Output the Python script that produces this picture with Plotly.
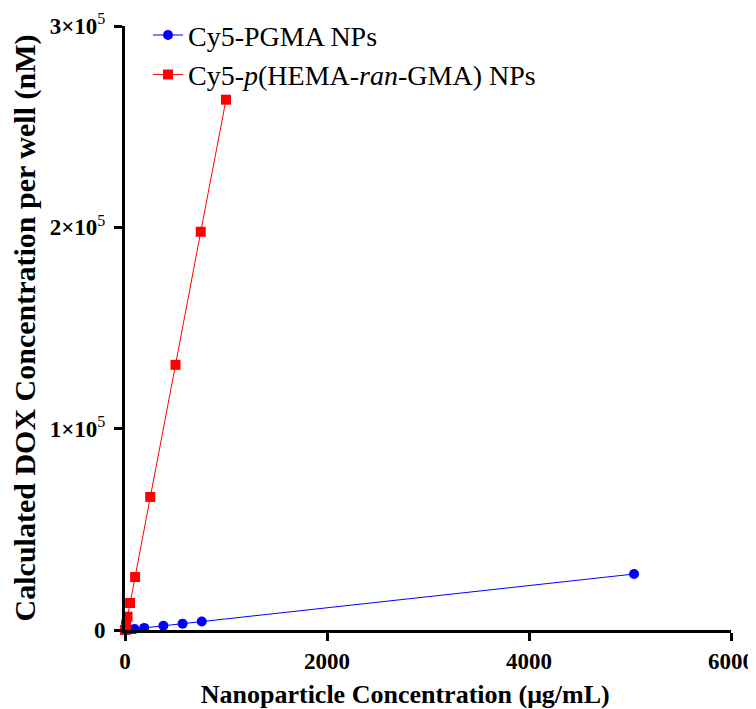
import plotly.graph_objects as go

pgma_x = [0, 10, 25, 50, 95, 190, 380, 570, 760, 5040]
pgma_y = [0, 55, 140, 275, 520, 1050, 2100, 3150, 4200, 27800]

hema_x = [0, 10, 25, 50, 100, 250, 500, 750, 1000]
hema_y = [0, 2600, 6600, 13400, 26300, 66100, 131700, 197800, 263400]

x_ticks = [0, 2000, 4000, 6000]
x_ticktext = ["<b>0</b>", "<b>2000</b>", "<b>4000</b>", "<b>6000</b>"]
y_ticks = [0, 100000, 200000, 300000]
y_ticktext = ["<b>0</b>", "<b>1×10</b><sup>5</sup>", "<b>2×10</b><sup>5</sup>", "<b>3×10</b><sup>5</sup>"]

font = "Liberation Serif"

fig = go.Figure()
fig.add_trace(go.Scatter(x=pgma_x, y=pgma_y, mode="lines+markers", name="Cy5-PGMA NPs",
                         line=dict(color="#0000ff", width=1),
                         marker=dict(symbol="circle", size=10, color="#0000ff"),
                         cliponaxis=False))
fig.add_trace(go.Scatter(x=hema_x, y=hema_y, mode="lines+markers",
                         name="Cy5-<i>p</i>(HEMA-<i>ran</i>-GMA) NPs",
                         line=dict(color="#ff0000", width=1),
                         marker=dict(symbol="square", size=10, color="#ff0000"),
                         cliponaxis=False))

# page body adds an 8px offset; figure sized to fit the 756x709 window
fig.update_layout(
    width=748, height=701,
    margin=dict(l=117, r=25, t=18, b=79, autoexpand=False),
    plot_bgcolor="white", paper_bgcolor="white",
    font=dict(family=font, color="black"),
    showlegend=True,
    legend=dict(x=0.038, y=1.026, xanchor="left", yanchor="top",
                font=dict(size=28, family=font), itemwidth=30,
                bgcolor="rgba(0,0,0,0)"),
    xaxis=dict(range=[0, 6000], tickvals=x_ticks, ticktext=x_ticktext,
               showline=True, linecolor="black", linewidth=3,
               ticks="outside", ticklen=8, tickwidth=3, tickcolor="black",
               showgrid=False, zeroline=False, automargin=False,
               tickfont=dict(size=23, family=font),
               title=dict(text="<b>Nanoparticle Concentration (μg/mL)</b>" + "&nbsp;" * 7,
                          font=dict(size=26, family=font), standoff=18)),
    yaxis=dict(range=[0, 300000], tickvals=y_ticks, ticktext=y_ticktext,
               showline=True, linecolor="black", linewidth=3,
               ticks="outside", ticklen=8, tickwidth=3, tickcolor="black",
               showgrid=False, zeroline=False, automargin=False,
               ticklabelstandoff=4,
               tickfont=dict(size=23, family=font),
               title=dict(text="<b>Calculated DOX Concentration per well (nM)</b>",
                          font=dict(size=30, family=font), standoff=10)),
)

fig.write_html("out.html")
